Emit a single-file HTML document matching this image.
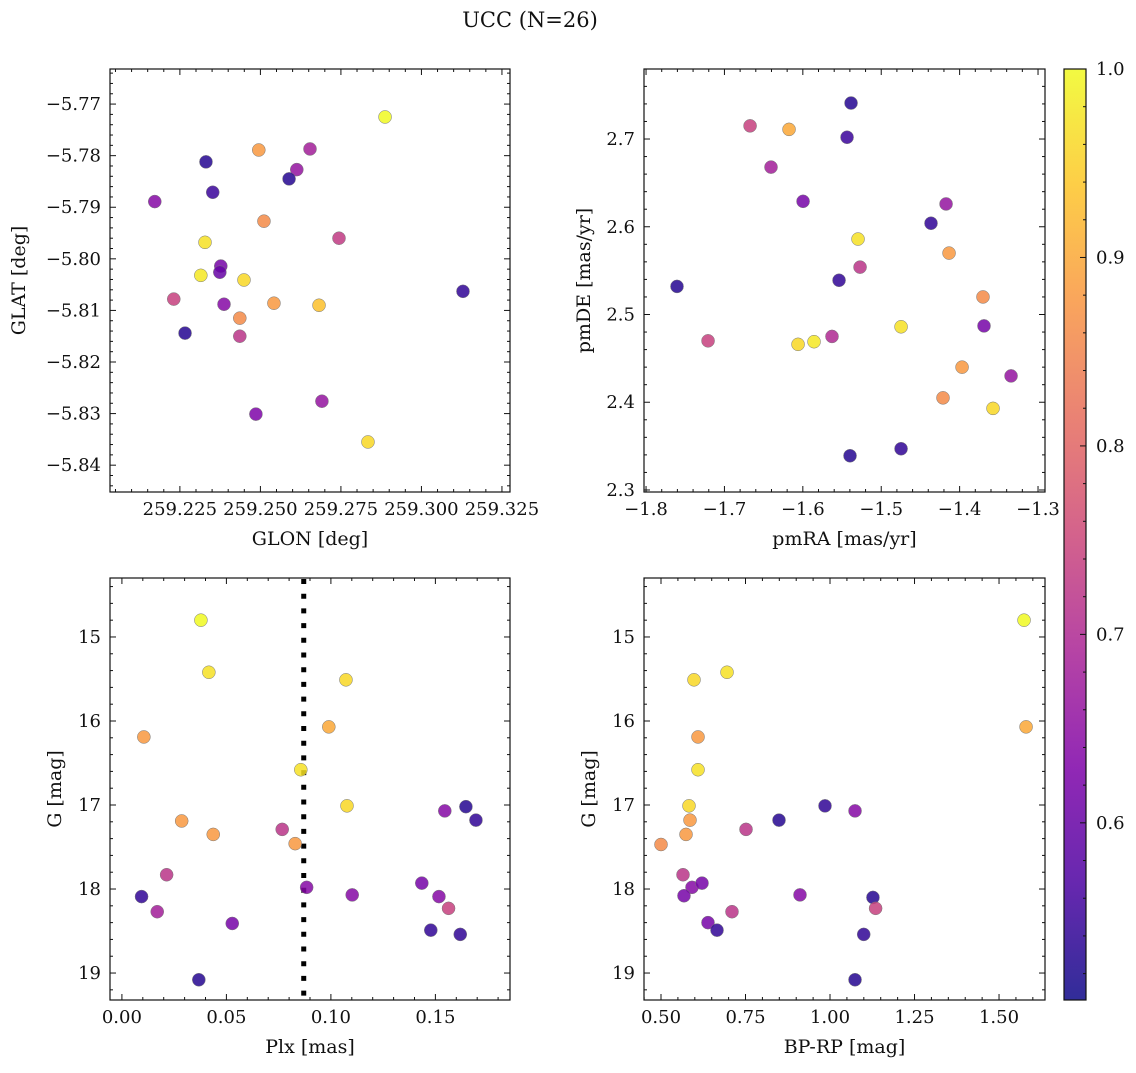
<!DOCTYPE html>
<html><head><meta charset="utf-8">
<style>
body{margin:0;background:#fff;}
svg text{font-family:"DejaVu Serif","Liberation Serif",serif;fill:#111;}
</style></head>
<body>
<svg id="fig" width="1136" height="1068" xmlns="http://www.w3.org/2000/svg">
<defs>
<linearGradient id="plasmaGrad" x1="0" y1="1" x2="0" y2="0">
<stop offset="0" stop-color="#0d0887"/><stop offset="0.125" stop-color="#4c02a1"/><stop offset="0.25" stop-color="#7e03a8"/><stop offset="0.375" stop-color="#a92395"/><stop offset="0.5" stop-color="#cc4778"/><stop offset="0.625" stop-color="#e66c5c"/><stop offset="0.75" stop-color="#f89540"/><stop offset="0.875" stop-color="#fdc527"/><stop offset="1" stop-color="#f0f921"/>
</linearGradient>
</defs>
<text x="530" y="27" font-size="21" text-anchor="middle">UCC (N=26)</text>
</svg>
<script>
// Panel 1: GLON vs GLAT
const glon = [259.2887,259.2495,259.2654,259.2613,259.2589,259.2331,259.2352,259.2172,259.2511,259.2328,259.2744,259.2377,259.2374,259.2315,259.2449,259.2231,259.2387,259.2542,259.2682,259.3129,259.2436,259.2436,259.2266,259.2691,259.2486,259.2834];
const glat = [-5.7725,-5.7789,-5.7787,-5.7827,-5.7845,-5.7812,-5.7871,-5.7889,-5.7927,-5.7968,-5.7960,-5.8014,-5.8026,-5.8032,-5.8041,-5.8078,-5.8088,-5.8086,-5.8090,-5.8063,-5.8115,-5.8150,-5.8144,-5.8276,-5.8301,-5.8355];
const prob1 = [1.0,0.88,0.68,0.66,0.53,0.53,0.55,0.64,0.86,0.97,0.73,0.62,0.60,0.98,0.96,0.74,0.64,0.88,0.93,0.54,0.86,0.72,0.53,0.66,0.63,0.96];
// Panel 2: pmRA vs pmDE
const pmra = [-1.5385,-1.6673,-1.6176,-1.5436,-1.6406,-1.5997,-1.4173,-1.4365,-1.5296,-1.4135,-1.527,-1.5538,-1.7605,-1.3702,-1.3689,-1.4747,-1.5628,-1.5857,-1.6061,-1.7209,-1.3969,-1.3344,-1.4212,-1.3574,-1.4747,-1.5398];
const pmde = [2.741,2.715,2.711,2.702,2.668,2.629,2.626,2.604,2.586,2.570,2.554,2.539,2.532,2.520,2.487,2.486,2.475,2.469,2.466,2.470,2.440,2.430,2.405,2.393,2.347,2.339];
const prob2 = [0.53,0.74,0.90,0.55,0.68,0.62,0.66,0.54,0.97,0.88,0.72,0.54,0.53,0.86,0.62,0.97,0.70,0.98,0.96,0.74,0.88,0.66,0.86,0.96,0.54,0.53];
// Panel 3: Plx vs G
const plx = [0.0378,0.0416,0.1072,0.0105,0.099,0.0856,0.1077,0.1545,0.1646,0.1694,0.0286,0.0437,0.0767,0.0829,0.0214,0.0884,0.1102,0.1435,0.1517,0.1563,0.0094,0.0169,0.0528,0.1478,0.1619,0.0368];
const gmag3 = [14.80,15.42,15.51,16.19,16.07,16.58,17.01,17.07,17.02,17.18,17.19,17.35,17.29,17.46,17.83,17.98,18.07,17.93,18.09,18.23,18.09,18.27,18.41,18.49,18.54,19.08];
const prob3 = [1.0,0.97,0.96,0.88,0.90,0.97,0.96,0.64,0.53,0.54,0.88,0.88,0.72,0.88,0.72,0.64,0.64,0.62,0.64,0.74,0.54,0.68,0.62,0.54,0.54,0.53];
const plxLine = [0.087];
// Panel 4: BP-RP vs G
const bprp = [1.574,0.6953,0.5976,0.6095,1.580,0.6095,0.5828,0.5858,0.574,0.5,0.7515,0.8491,0.9852,1.074,0.5651,0.5917,0.6213,0.568,0.9112,0.71,0.639,0.6657,1.127,1.1349,1.0997,1.074];
const gmag4 = [14.80,15.42,15.51,16.19,16.07,16.58,17.01,17.18,17.35,17.47,17.29,17.18,17.01,17.07,17.83,17.98,17.93,18.08,18.07,18.27,18.40,18.49,18.10,18.23,18.54,19.08];
const prob4 = [1.0,0.97,0.96,0.88,0.90,0.97,0.96,0.88,0.88,0.86,0.72,0.53,0.54,0.64,0.72,0.64,0.62,0.62,0.64,0.72,0.62,0.54,0.53,0.74,0.54,0.53];
// Colorbar
const cbTicks = [0.6,0.7,0.8,0.9,1.0];
const cbMin = 0.506, cbMax = 1.0;

const NS = "http://www.w3.org/2000/svg";
const svg = document.getElementById('fig');
function mk(tag, attrs, parent){const e=document.createElementNS(NS,tag);for(const k in attrs)e.setAttribute(k,attrs[k]);(parent||svg).appendChild(e);return e;}
const stops=[[0,[13,8,135]],[0.125,[76,2,161]],[0.25,[126,3,168]],[0.375,[169,35,149]],[0.5,[204,71,120]],[0.625,[230,108,92]],[0.75,[248,149,64]],[0.875,[253,197,39]],[1,[240,249,33]]];
function plasma(t){t=Math.max(0,Math.min(1,t));for(let i=1;i<stops.length;i++){if(t<=stops[i][0]){const a=stops[i-1],b=stops[i];const f=(t-a[0])/(b[0]-a[0]);const c=a[1].map((v,j)=>Math.round(v+(b[1][j]-v)*f));return `rgb(${c[0]},${c[1]},${c[2]})`;}}return 'rgb(240,249,33)';}
function fmt(v,d){const s=Math.abs(v).toFixed(d);return (v<-1e-9?'−':'')+s;}

function panel(o){
  const g=mk('g',{});
  
  
  const X=v=>o.x0+(v-o.xd[0])/(o.xd[1]-o.xd[0])*(o.x1-o.x0);
  const Y=o.yinv? v=>o.y0+(v-o.yd[0])/(o.yd[1]-o.yd[0])*(o.y1-o.y0) : v=>o.y1-(v-o.yd[0])/(o.yd[1]-o.yd[0])*(o.y1-o.y0);
  const tg=mk('g',{stroke:'#111','stroke-width':1},g);
  const xmin=Math.min(...o.xd),xmax=Math.max(...o.xd),ymin=Math.min(...o.yd),ymax=Math.max(...o.yd);
  for(let v=Math.ceil(xmin/o.xminor-1e-6)*o.xminor;v<=xmax+1e-9;v+=o.xminor){const px=X(v);const maj=Math.abs(v/o.xmajor-Math.round(v/o.xmajor))<1e-4;const L=maj?6:3;
    mk('line',{x1:px,x2:px,y1:o.y1,y2:o.y1-L},tg);mk('line',{x1:px,x2:px,y1:o.y0,y2:o.y0+L},tg);
    if(maj){const t=mk('text',{x:px,y:o.y1+23,'font-size':o.xfs||18,'text-anchor':'middle'},g);t.textContent=fmt(v,o.xdec);
      
      }}
  for(let v=Math.ceil(ymin/o.yminor-1e-6)*o.yminor;v<=ymax+1e-9;v+=o.yminor){const py=Y(v);const maj=Math.abs(v/o.ymajor-Math.round(v/o.ymajor))<1e-4;const L=maj?6:3;
    mk('line',{x1:o.x0,x2:o.x0+L,y1:py,y2:py},tg);mk('line',{x1:o.x1,x2:o.x1-L,y1:py,y2:py},tg);
    if(maj){const t=mk('text',{x:o.x0-9,y:py+6,'font-size':18,'text-anchor':'end'},g);t.textContent=fmt(v,o.ydec);
      
      }}
  if(o.vline){o.vline.forEach(v=>{const l=mk('line',{x1:X(v),x2:X(v),y1:o.y0+1,y2:o.y1,stroke:'#000','stroke-width':5,'stroke-dasharray':'5,9.7'},g);
    
    });}
  o.xs.forEach((xv,i)=>{const c=mk('circle',{cx:X(xv),cy:Y(o.ys[i]),r:6.5,fill:plasma((o.cs[i]-cbMin)/(cbMax-cbMin)),'fill-opacity':0.85,stroke:'#777','stroke-width':0.5},g);
    
    });
  const fr=mk('rect',{x:o.x0,y:o.y0,width:o.x1-o.x0,height:o.y1-o.y0,fill:'none',stroke:'#111','stroke-width':1.2},g);
  
  
  const xl=mk('text',{x:(o.x0+o.x1)/2,y:o.y1+53,'font-size':19,'text-anchor':'middle'},g);xl.textContent=o.xlabel;
  
  
  const yc=(o.y0+o.y1)/2;
  const yl=mk('text',{x:o.ylx,y:yc,'font-size':19,'text-anchor':'middle',transform:`rotate(-90 ${o.ylx} ${yc})`},g);yl.textContent=o.ylabel;
  
  
}
panel({name:'glon-glat-panel',x0:110,x1:510,y0:69,y1:492,xd:[259.2033,259.3275],yd:[-5.8452,-5.7632],xmajor:0.025,xminor:0.005,ymajor:0.01,yminor:0.002,xdec:3,ydec:2,xfs:18,xs:glon,ys:glat,cs:prob1,xlabel:'GLON [deg]',ylabel:'GLAT [deg]',ylx:25});
panel({name:'pm-panel',x0:644,x1:1045,y0:69,y1:492,xd:[-1.8026,-1.2911],yd:[2.2977,2.7798],xmajor:0.1,xminor:0.02,ymajor:0.1,yminor:0.02,xdec:1,ydec:1,xs:pmra,ys:pmde,cs:prob2,xlabel:'pmRA [mas/yr]',ylabel:'pmDE [mas/yr]',ylx:590});
panel({name:'plx-g-panel',x0:110,x1:510,y0:578,y1:1000,xd:[-0.0057,0.1857],yd:[14.298,19.321],yinv:true,xmajor:0.05,xminor:0.01,ymajor:1,yminor:0.2,xdec:2,ydec:0,xs:plx,ys:gmag3,cs:prob3,vline:plxLine,xlabel:'Plx [mas]',ylabel:'G [mag]',ylx:61});
panel({name:'cmd-panel',x0:644,x1:1045,y0:578,y1:1000,xd:[0.4497,1.636],yd:[14.298,19.321],yinv:true,xmajor:0.25,xminor:0.05,ymajor:1,yminor:0.2,xdec:2,ydec:0,xs:bprp,ys:gmag4,cs:prob4,xlabel:'BP-RP [mag]',ylabel:'G [mag]',ylx:595});

const cb=mk('g',{});


const cby0=69,cby1=1000,cbx0=1064,cbx1=1086;
mk('rect',{x:cbx0,y:cby0,width:cbx1-cbx0,height:cby1-cby0,fill:'url(#plasmaGrad)','fill-opacity':0.85},cb);
mk('rect',{x:cbx0,y:cby0,width:cbx1-cbx0,height:cby1-cby0,fill:'none',stroke:'#111','stroke-width':1.2},cb);
const CY=v=>cby1-(v-cbMin)/(cbMax-cbMin)*(cby1-cby0);
for(let v=0.52;v<=1.0001;v+=0.02){const py=CY(v);const maj=Math.abs(v*10-Math.round(v*10))<1e-4;mk('line',{x1:cbx1,x2:cbx1-(maj?6:3),y1:py,y2:py,stroke:'#111','stroke-width':1},cb);}
cbTicks.forEach(v=>{const t=mk('text',{x:cbx1+10,y:CY(v)+6,'font-size':18},cb);t.textContent=v.toFixed(1);
  
  });
</script>
</body></html>
